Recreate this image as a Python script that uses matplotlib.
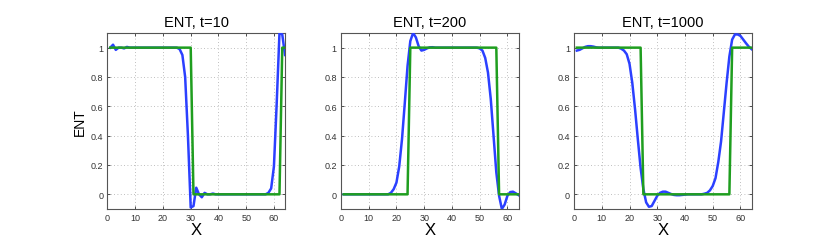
import numpy as np
import matplotlib
matplotlib.use("Agg")
import matplotlib.pyplot as plt

plt.rcParams['font.family'] = ['Liberation Sans', 'DejaVu Sans']

x = np.arange(1, 65)

titles = ["ENT, t=10", "ENT, t=200", "ENT, t=1000"]

exact_t10 = [1]*30 + [0]*32 + [1]*2
exact_t200 = [0]*24 + [1]*32 + [0]*8
exact_t1000 = [1]*24 + [0]*32 + [1]*8

num_t10 = [1.0, 1.02, 0.985, 1.0, 1.0, 0.995, 1.005, 1.0, 1.0, 1.0,
           1.0, 1.0, 1.0, 1.0, 1.0, 1.0, 1.0, 1.0, 1.0, 1.0,
           1.0, 1.0, 1.0, 1.0, 1.0, 0.99, 0.95, 0.8, 0.4, -0.09,
           -0.08, 0.045, 0.0, -0.02, 0.01, 0.0, 0.0, 0.005, 0.0, 0.0,
           0.0, 0.0, 0.0, 0.0, 0.0, 0.0, 0.0, 0.0, 0.0, 0.0,
           0.0, 0.0, 0.0, 0.0, 0.0, 0.0, 0.0, 0.01, 0.04, 0.19,
           0.62, 1.1, 1.09, 0.95]

num_t200 = [0.0]*17 + [0.01, 0.035, 0.08, 0.19, 0.375, 0.62, 0.875,
            1.045, 1.1, 1.07, 1.01, 0.98, 0.985, 0.995, 1.002, 1.003, 1.0,
            1.0, 1.0, 1.0, 1.0, 1.0, 1.0, 1.0, 1.0, 1.0, 1.0,
            1.0, 1.0, 1.0, 1.0, 1.0, 0.995, 0.98, 0.93, 0.83, 0.65,
            0.4, 0.15, -0.01, -0.1, -0.07, -0.01, 0.015, 0.018, 0.007, -0.005]

num_t1000 = [0.98, 0.985, 0.995, 1.005, 1.01, 1.01, 1.007, 1.002, 1.0, 1.0,
             1.0, 1.0, 1.0, 1.0, 1.0, 1.0, 0.993, 0.98, 0.955, 0.89,
             0.76, 0.58, 0.375, 0.18, 0.035, -0.055, -0.085, -0.08, -0.045, -0.01,
             0.01, 0.018, 0.018, 0.01, 0.002, -0.004, -0.006, -0.006, -0.004, -0.002,
             0.0, 0.0, 0.0, 0.0, 0.0, 0.0, 0.004, 0.01, 0.027, 0.057,
             0.11, 0.22, 0.36, 0.56, 0.76, 0.94, 1.055, 1.09, 1.09, 1.08,
             1.055, 1.03, 1.007, 0.99]

exacts = [exact_t10, exact_t200, exact_t1000]
nums = [num_t10, num_t200, num_t1000]

xticks = [0, 10, 20, 30, 40, 50, 60]
yticks = [0, 0.2, 0.4, 0.6, 0.8, 1]
yticklabels = ["0", "0.2", "0.4", "0.6", "0.8", "1"]

fig = plt.figure(figsize=(8.3, 2.53), dpi=100)
lefts = [0.1295, 0.4108, 0.6916]
for i in range(3):
    ax = fig.add_axes([lefts[i], 0.17, 0.2139, 0.6957])
    ax.plot(x, nums[i], color='#2b40ff', lw=1.8, zorder=3)
    ax.plot(x, exacts[i], color='#1f9e1f', lw=1.8, zorder=4)
    ax.set_xlim(0, 64)
    ax.set_ylim(-0.1, 1.1)
    ax.set_xticks(xticks)
    ax.set_yticks(yticks)
    ax.set_yticklabels(yticklabels)
    ax.tick_params(direction='in', labelsize=6.5, length=2.5, width=0.6,
                   colors='#333333', top=True, right=True, pad=3)
    ax.grid(True, linestyle=(0, (1, 3)), color='#aaaaaa', lw=0.6)
    for s in ax.spines.values():
        s.set_color('#555555')
        s.set_linewidth(0.8)
    ax.set_title(titles[i], fontsize=10.5, pad=5)
    ax.set_xlabel('X', fontsize=12, labelpad=0)
    if i == 0:
        ax.set_ylabel('ENT', fontsize=10, labelpad=3)

fig.savefig('out.png', dpi=100)
